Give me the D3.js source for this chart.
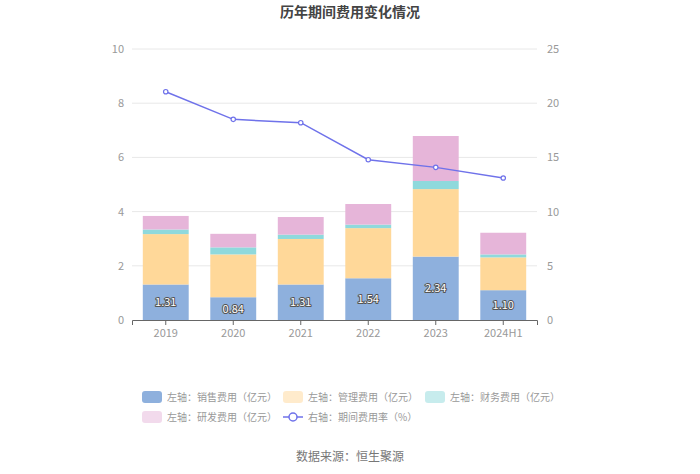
<!DOCTYPE html>
<html><head><meta charset="utf-8">
<script src="https://cdn.jsdelivr.net/npm/d3@7"></script>
<style>body{margin:0;background:#fff;font-family:"Noto Sans CJK SC","Noto Sans",sans-serif;}</style>
</head><body><svg id="c" width="700" height="474"></svg>
<script>
const categories = ["2019","2020","2021","2022","2023","2024H1"];
const sales = [1.31,0.84,1.31,1.54,2.34,1.10];
const mgmt = [1.86,1.58,1.68,1.85,2.49,1.21];
const finance = [0.17,0.26,0.16,0.13,0.30,0.11];
const rnd = [0.50,0.50,0.65,0.76,1.66,0.80];
const rate = [21.06,18.51,18.20,14.79,14.08,13.10];
const leftTicks = [0,2,4,6,8,10];
const rightTicks = [0,5,10,15,20,25];
const seriesNames = ["左轴：销售费用（亿元）","左轴：管理费用（亿元）","左轴：财务费用（亿元）","左轴：研发费用（亿元）","右轴：期间费用率（%）"];
const colors = ["#8eb0dd","#ffd899","#8fd9dc","#e6b5d9"];
const lineColor = "#6f72ea";

const svg = d3.select("#c");
const font = '"Noto Sans CJK SC","Noto Sans",sans-serif';
const L = 132, R = 537, T = 49, B = 320;
const x = d3.scaleBand().domain(categories).range([L,R]).paddingInner(0.32).paddingOuter(0.16);
const yL = d3.scaleLinear().domain([0,10]).range([B,T]);
const yR = d3.scaleLinear().domain([0,25]).range([B,T]);

svg.append("text").attr("x",350).attr("y",17).attr("text-anchor","middle")
  .attr("font-family",font).attr("font-size",14).attr("font-weight","bold").attr("fill","#444")
  .text("历年期间费用变化情况");

// grid
svg.append("g").selectAll("line").data(leftTicks.slice(1)).join("line")
  .attr("x1",L).attr("x2",R).attr("y1",d=>yL(d)).attr("y2",d=>yL(d))
  .attr("stroke","#e8e8e8").attr("stroke-width",1);

// axes labels
const gl = svg.append("g").attr("transform",`translate(${L},0)`)
  .call(d3.axisLeft(yL).tickValues(leftTicks).tickSize(0).tickPadding(8));
gl.select(".domain").remove();
gl.selectAll("text").attr("font-family",font).attr("font-size",11).attr("fill","#999");
const gr = svg.append("g").attr("transform",`translate(${R},0)`)
  .call(d3.axisRight(yR).tickValues(rightTicks).tickSize(0).tickPadding(10));
gr.select(".domain").remove();
gr.selectAll("text").attr("font-family",font).attr("font-size",11).attr("fill","#999");

// stacked bars
const rows = categories.map((c,i)=>({cat:c,s0:sales[i],s1:mgmt[i],s2:finance[i],s3:rnd[i]}));
const stack = d3.stack().keys(["s0","s1","s2","s3"])(rows);
svg.append("g").selectAll("g").data(stack).join("g").attr("fill",(d,i)=>colors[i])
  .selectAll("rect").data(d=>d).join("rect")
  .attr("x",d=>x(d.data.cat)).attr("width",x.bandwidth())
  .attr("y",d=>yL(d[1])).attr("height",d=>yL(d[0])-yL(d[1]));

// x axis
const gx = svg.append("g").attr("transform",`translate(0,${B})`)
  .call(d3.axisBottom(x).tickSize(5).tickPadding(4));
gx.select(".domain").attr("stroke","#666");
gx.selectAll(".tick line").attr("stroke","#666");
gx.selectAll("text").attr("font-family",font).attr("font-size",11).attr("fill","#999");

// labels on sales
svg.append("g").selectAll("text").data(categories).join("text")
  .attr("x",d=>x(d)+x.bandwidth()/2).attr("y",(d,i)=>yL(sales[i]/2)+4)
  .attr("text-anchor","middle").attr("font-family",font).attr("font-size",11)
  .attr("fill","#fff").attr("stroke","#555").attr("stroke-width",2).attr("paint-order","stroke")
  .attr("stroke-linejoin","round")
  .text((d,i)=>sales[i].toFixed(2));

// line
const line = d3.line().x((d,i)=>x(categories[i])+x.bandwidth()/2).y(d=>yR(d));
svg.append("path").datum(rate).attr("d",line).attr("fill","none").attr("stroke",lineColor).attr("stroke-width",1.5);
svg.append("g").selectAll("circle").data(rate).join("circle")
  .attr("cx",(d,i)=>x(categories[i])+x.bandwidth()/2).attr("cy",d=>yR(d)).attr("r",2.2)
  .attr("fill","#fff").attr("stroke",lineColor).attr("stroke-width",1.2);

// legend
const legPos = [[142,397],[283,397],[425,397],[142,417],[283,417]];
const lg = svg.append("g");
seriesNames.forEach((n,i)=>{
  const [lx,ly] = legPos[i];
  if(i<4){
    lg.append("rect").attr("x",lx).attr("y",ly-6).attr("width",20).attr("height",12).attr("rx",3)
      .attr("fill",colors[i]).attr("opacity",i===0?1:0.5);
  } else {
    lg.append("line").attr("x1",lx).attr("x2",lx+20).attr("y1",ly).attr("y2",ly).attr("stroke",lineColor).attr("stroke-width",1.5);
    lg.append("circle").attr("cx",lx+10).attr("cy",ly).attr("r",4).attr("fill","#fff").attr("stroke",lineColor).attr("stroke-width",1.5);
  }
  lg.append("text").attr("x",lx+25).attr("y",ly+4).attr("font-family",font).attr("font-size",10)
    .attr("fill","#999").text(n);
});

svg.append("text").attr("x",350).attr("y",461).attr("text-anchor","middle")
  .attr("font-family",font).attr("font-size",12).attr("fill","#777").text("数据来源：恒生聚源");
</script></body></html>
